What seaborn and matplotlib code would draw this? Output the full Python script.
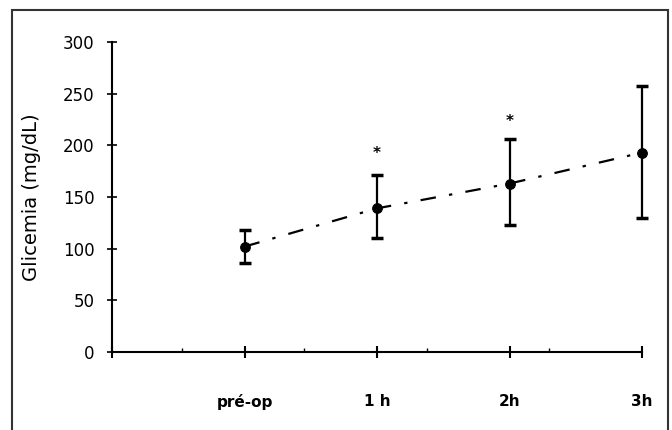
import numpy as np
import pandas as pd
import matplotlib
matplotlib.use("Agg")
import matplotlib.pyplot as plt
from matplotlib.patches import Rectangle
from matplotlib.ticker import FixedLocator
import seaborn as sns

# values
times = ["pré-op", "1 h", "2h", "3h"]
time_pos = [0, 1, 2, 3]
glicemia_mean = [102, 139, 163, 193]
glicemia_upper = [118, 171, 206, 257]
glicemia_lower = [86, 110, 123, 130]
star_pos = [1, 2]
star_level = [192, 223]

df = pd.DataFrame({"t": time_pos, "glicemia": glicemia_mean})

sns.set_theme(style="white")
plt.rcParams["font.family"] = ["DejaVu Sans"]
plt.rcParams["text.color"] = "black"
plt.rcParams["axes.labelcolor"] = "black"

fig = plt.figure(figsize=(6.72, 4.30), dpi=100)
ax = fig.add_axes([0.1667, 0.1814, 0.7887, 0.7209])

sns.lineplot(data=df, x="t", y="glicemia", ax=ax, color="black",
             linewidth=1.6, linestyle=(0, (7, 6, 1.5, 6)),
             marker="o", markersize=7, markeredgecolor="black")

yerr = [np.array(glicemia_mean) - np.array(glicemia_lower),
        np.array(glicemia_upper) - np.array(glicemia_mean)]
ax.errorbar(time_pos, glicemia_mean, yerr=yerr, fmt="none", ecolor="black",
            elinewidth=1.6, capsize=4, capthick=2.5)

for xp, lv in zip(star_pos, star_level):
    ax.text(xp, lv, "*", ha="center", va="center", fontsize=11,
            fontweight="bold", color="black")

# let the last error bar and marker spill over the right edge
for art in ax.lines + ax.collections:
    art.set_clip_on(False)

ax.set_xlim(-1, 3)
ax.set_ylim(0, 300)
ax.set_yticks(range(0, 301, 50))
ax.set_xticks([-1] + time_pos)
ax.set_xticklabels([""] + times, fontsize=11, fontweight="bold")
ax.xaxis.set_minor_locator(FixedLocator([-0.47, 0.45, 1.38, 2.3]))
ax.tick_params(axis="y", labelsize=12, direction="inout", length=7,
               width=1.2, pad=9, left=True, colors="black")
ax.tick_params(axis="x", which="major", direction="inout", length=8,
               width=1.5, pad=26, bottom=True, colors="black")
ax.tick_params(axis="x", which="minor", direction="in", length=3,
               width=1, bottom=True, colors="black")
ax.set_xlabel("")
ax.set_ylabel("Glicemia (mg/dL)", fontsize=14, labelpad=16, color="black")

sns.despine(ax=ax)
for side in ["left", "bottom"]:
    ax.spines[side].set_color("black")
    ax.spines[side].set_linewidth(1.5)
ax.grid(False)

# outer frame
fig.patches.append(Rectangle((12 / 672, -0.05), 656 / 672, 1 - 10 / 430 + 0.05,
                             transform=fig.transFigure, fill=False,
                             edgecolor="#333333", linewidth=1.5))

fig.savefig("out.png", dpi=100)
